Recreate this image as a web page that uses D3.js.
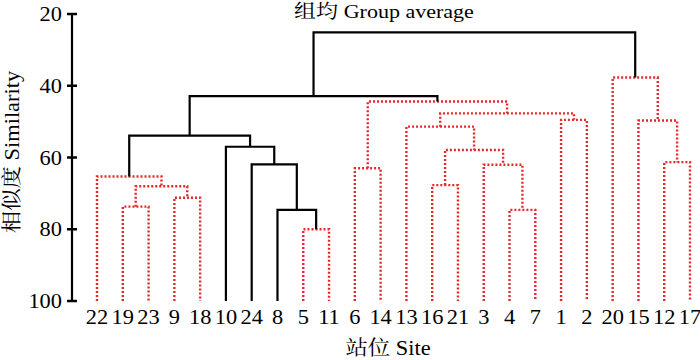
<!DOCTYPE html>
<html>
<head>
<meta charset="utf-8">
<script src="https://cdn.jsdelivr.net/npm/d3@7"></script>
<style>
  html, body { margin: 0; padding: 0; background: #fff; }
  #chart { width: 700px; height: 360px; }
</style>
</head>
<body>
<div id="chart"></div>
<script>
// ── DATA ──────────────────────────────────────────────────────────────────
// Leaf order along the x axis (station numbers)
const leaves = ["22","19","23","9","18","10","24","8","5","11","6","14",
                "13","16","21","3","4","7","1","2","20","15","12","17"];

// Merge table: each entry joins two children (a leaf label or "m<k>")
const merges = [
  ["5","11"],     // m0
  ["19","23"],    // m1
  ["4","7"],      // m2
  ["8","m0"],     // m3
  ["9","18"],     // m4
  ["m1","m4"],    // m5
  ["16","21"],    // m6
  ["22","m5"],    // m7
  ["6","14"],     // m8
  ["3","m2"],     // m9
  ["24","m3"],    // m10
  ["12","17"],    // m11
  ["m6","m9"],    // m12
  ["10","m10"],   // m13
  ["m7","m13"],   // m14
  ["13","m12"],   // m15
  ["15","m11"],   // m16
  ["1","2"],      // m17
  ["m15","m17"],  // m18
  ["m8","m18"],   // m19
  ["m14","m19"],  // m20
  ["20","m16"],   // m21
  ["m20","m21"]   // m22
];
// Similarity (%) at which each merge happens
const heights = [80.0, 73.7, 74.6, 74.6, 71.2, 68.0, 67.7, 65.3, 63.0, 62.0,
                 61.9, 61.3, 57.9, 57.0, 53.9, 51.4, 49.7, 49.5, 47.7, 44.4,
                 42.9, 37.7, 25.1];
// Significant structure (drawn solid black); the rest is dotted red
const significant = ["m3","m10","m13","m14","m20","m22"];

const yTicks = [20, 40, 60, 80, 100];

// ── LAYOUT ────────────────────────────────────────────────────────────────
const width = 700, height = 360;
const serif = "'Liberation Serif', 'Times New Roman', 'Noto Serif CJK SC', 'Noto Sans CJK SC', serif";
const RED = "#e8262b";
const STRETCH = 1.12;   // the source figure's lettering is slightly wide

const svg = d3.select("#chart").append("svg")
  .attr("width", width).attr("height", height)
  .style("display", "block");

const x = d3.scalePoint().domain(leaves).range([97, 690]);
const y = d3.scaleLinear().domain([20, 100]).range([14, 301]);

// text placed at (tx,ty), widened along its own direction
function label(tx, ty, str, opts = {}) {
  const rot = opts.rotate ? ` rotate(${opts.rotate})` : "";
  return svg.append("text")
    .attr("transform", `translate(${tx},${ty})${rot} scale(${opts.stretch || STRETCH},1)`)
    .attr("text-anchor", opts.anchor || "middle")
    .attr("dy", opts.dy || null)
    .attr("font-family", serif)
    .attr("font-size", (opts.size || 20) + "px")
    .attr("fill", "#000")
    .text(str);
}

// ── AXIS ──────────────────────────────────────────────────────────────────
const axisX = 72;
svg.append("line")
  .attr("x1", axisX).attr("x2", axisX)
  .attr("y1", y(20)).attr("y2", y(100))
  .attr("stroke", "#000").attr("stroke-width", 2.2);

yTicks.forEach(t => {
  svg.append("line")
    .attr("x1", axisX - 5).attr("x2", axisX + 5)
    .attr("y1", y(t)).attr("y2", y(t))
    .attr("stroke", "#000").attr("stroke-width", 2.5);
  label(62, y(t), t, { anchor: "end", dy: "0.35em" });
});

// ── TREE ──────────────────────────────────────────────────────────────────
// position of a child: leaf -> (x, 100), merge -> (mean of its children, height)
const pos = {};
leaves.forEach(l => { pos[l] = { x: x(l), v: 100 }; });
merges.forEach((m, k) => {
  const a = pos[m[0]], b = pos[m[1]];
  pos["m" + k] = { x: (a.x + b.x) / 2, v: heights[k] };
});

merges.forEach((m, k) => {
  const id = "m" + k;
  const a = pos[m[0]], b = pos[m[1]], h = heights[k];
  const sig = significant.includes(id);
  const p = d3.path();
  p.moveTo(a.x, y(a.v));
  p.lineTo(a.x, y(h));
  p.lineTo(b.x, y(h));
  p.lineTo(b.x, y(b.v));
  svg.append("path")
    .attr("d", p.toString())
    .attr("fill", "none")
    .attr("stroke", sig ? "#000" : RED)
    .attr("stroke-width", sig ? 2.2 : 2.4)
    .attr("stroke-dasharray", sig ? null : "2 2")
    .attr("stroke-linejoin", "miter");
});

// ── LEAF LABELS ───────────────────────────────────────────────────────────
leaves.forEach(l => label(x(l), 324, l));

// ── TITLES ────────────────────────────────────────────────────────────────
label(384, 18, "组均 Group average", { size: 19, stretch: 1.16 });
label(388, 355, "站位 Site");
label(19, 152, "相似度 Similarity", { rotate: -90 });
</script>
</body>
</html>
